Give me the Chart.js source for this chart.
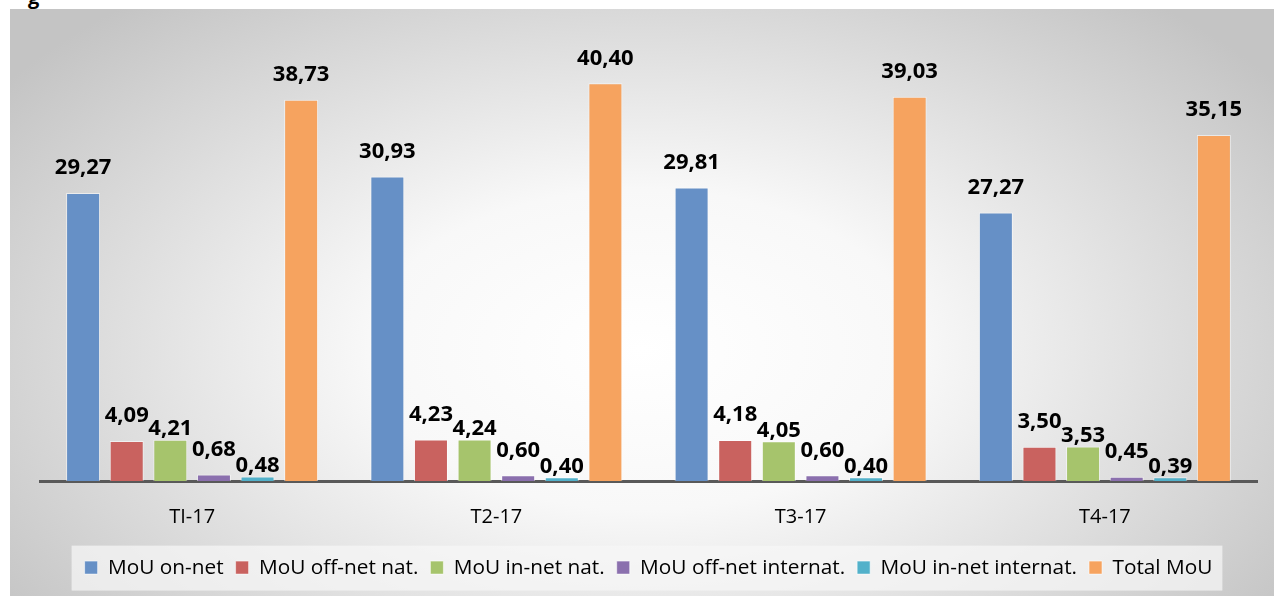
<!DOCTYPE html>
<html>
<head>
<meta charset="utf-8">
<script src="https://cdn.jsdelivr.net/npm/chart.js@4.4.1/dist/chart.umd.min.js"></script>
<style>
  html, body { margin: 0; padding: 0; background: #fff; }
  body { width: 1274px; height: 596px; position: relative; overflow: hidden; font-family: "Open Sans", sans-serif; }
  #cut { position: absolute; left: 0; top: 0; width: 60px; height: 9px; overflow: hidden; }
  #cut span { position: absolute; left: 28px; top: -17px; font: bold 20px "Open Sans"; color: #000; }
  #panel {
    position: absolute; left: 10px; top: 9px; width: 1264px; height: 587px;
    background: radial-gradient(ellipse 62% 78% at 50% 58%, #ffffff 0%, #f8f8f8 35%, #dcdcdc 70%, #c4c4c4 100%);
  }
</style>
</head>
<body>
<div id="cut"><span>g</span></div>
<div id="panel"><canvas id="mouChart" width="1264" height="587"></canvas></div>
<script>
let quarters = ['TI-17', 'T2-17', 'T3-17', 'T4-17'];
let seriesNames = ['MoU on-net', 'MoU off-net nat.', 'MoU in-net nat.', 'MoU off-net internat.', 'MoU in-net internat.', 'Total MoU'];
let mouOnNet = [29.27, 30.93, 29.81, 27.27];
let mouOffNetNat = [4.09, 4.23, 4.18, 3.50];
let mouInNetNat = [4.21, 4.24, 4.05, 3.53];
let mouOffNetInternat = [0.68, 0.60, 0.60, 0.45];
let mouInNetInternat = [0.48, 0.40, 0.40, 0.39];
let totalMou = [38.73, 40.40, 39.03, 35.15];

let seriesColors = ['#6690c6', '#c9625f', '#a6c46c', '#8b70ae', '#52b1ca', '#f6a35f'];
let seriesData = [mouOnNet, mouOffNetNat, mouInNetNat, mouOffNetInternat, mouInNetInternat, totalMou];

// value labels above bars, pushed down next to the bar when they would hit the previous one
const valueLabels = {
    id: 'valueLabels',
    afterDatasetsDraw(chart) {
        let ctx = chart.ctx;
        ctx.save();
        ctx.font = 'bold 22px "Open Sans"';
        ctx.fillStyle = '#000';
        ctx.textAlign = 'center';
        ctx.textBaseline = 'middle';
        quarters.forEach((q, i) => {
            let prev = null;
            chart.data.datasets.forEach((ds, d) => {
                let bar = chart.getDatasetMeta(d).data[i];
                let text = ds.data[i].toFixed(2).replace('.', ',');
                let w = ctx.measureText(text).width;
                let box = { l: bar.x - w / 2, r: bar.x + w / 2, y: bar.y - 25 };
                if (prev && box.l < prev.r + 4 && Math.abs(box.y - prev.y) < 14) {
                    box.y = bar.y - 11;
                }
                ctx.fillText(text, bar.x, box.y);
                prev = box;
            });
        });
        ctx.restore();
    }
};

// light box behind the legend
const legendBox = {
    id: 'legendBox',
    beforeDraw(chart) {
        let boxes = chart.legend.legendHitBoxes;
        if (!boxes || !boxes.length) return;
        let first = boxes[0], last = boxes[boxes.length - 1];
        let ctx = chart.ctx;
        ctx.save();
        ctx.fillStyle = 'rgba(246,246,246,0.72)';
        let cy = first.top + first.height / 2;
        ctx.fillRect(first.left - 13, cy - 22, last.left + last.width - first.left + 23, 45);
        ctx.restore();
    }
};

new Chart(document.getElementById('mouChart'), {
    type: 'bar',
    data: {
        labels: quarters,
        datasets: seriesNames.map((name, k) => ({
            label: name,
            data: seriesData[k],
            backgroundColor: seriesColors[k],
            borderColor: 'rgba(255,255,255,0.55)',
            borderWidth: 1,
            categoryPercentage: 0.86,
            barPercentage: 0.78
        }))
    },
    options: {
        responsive: false,
        animation: false,
        layout: { padding: { left: 30, right: 17, top: 29, bottom: 8 } },
        scales: {
            x: {
                grid: { display: false },
                border: { display: true, color: '#595959', width: 3 },
                ticks: { color: '#000', font: { family: 'Open Sans', size: 20 }, padding: 16 }
            },
            y: {
                display: false,
                min: 0,
                max: 45
            }
        },
        plugins: {
            legend: {
                position: 'bottom',
                labels: {
                    color: '#000',
                    font: { family: 'Open Sans', size: 20.8 },
                    boxWidth: 13,
                    boxHeight: 13,
                    padding: 12
                }
            },
            tooltip: { enabled: false }
        }
    },
    plugins: [valueLabels, legendBox]
});
</script>
</body>
</html>
